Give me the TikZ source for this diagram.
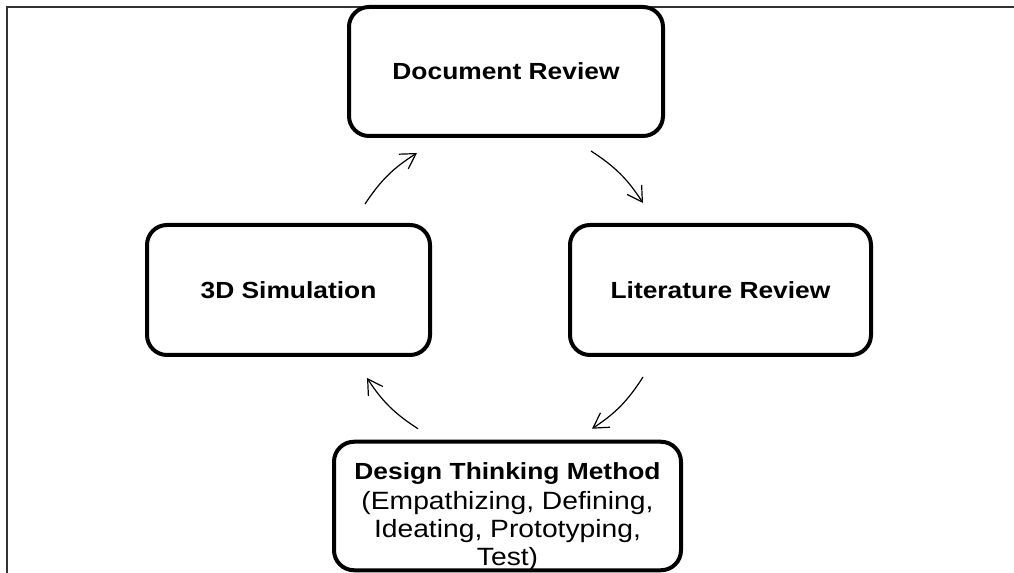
\documentclass[tikz,border=0pt]{standalone}
\usepackage{fontspec}
\setmainfont{Liberation Sans}[FakeStretch=1.13]
\usetikzlibrary{arrows.meta}

\newcommand\steptext{\mdseries\fontsize{18.75pt}{21pt}\selectfont}

\begin{document}
\begin{tikzpicture}[x=0.75pt,y=0.75pt,
    box/.style={draw,line width=3pt,rounded corners=15pt,align=center,inner sep=0pt,
      font=\bfseries\fontsize{17.5pt}{21pt}\selectfont},
    flow/.style={-{Straight Barb[length=11pt,width=13pt]},line width=0.9pt,bend left=12}]
  \useasboundingbox (0,0) rectangle (1014,-573);
  \draw[line width=0.9pt,black!80] (7,-573) -- (7,-7) -- (1014,-7);

  \node[box,minimum width=235.5pt,minimum height=96.75pt] (doc) at (506,-71.5) {Document Review};
  \node[box,minimum width=212.25pt,minimum height=97.5pt] (sim) at (288.5,-290) {3D Simulation};
  \node[box,minimum width=225.75pt,minimum height=97.5pt] (lit) at (720.5,-290) {Literature Review};
  \node[box,minimum width=260.25pt,minimum height=96pt] (dtm) at (507.5,-506)
    {\rule{0pt}{28pt}Design Thinking Method\\[1.5pt]
     \steptext (Empathizing, Defining,\\ \steptext Ideating, Prototyping,\\ \steptext Test)};

  \draw[flow] ([shift={(76.5,19)}]sim.north) to ([shift={(70,-15)}]doc.south west);
  \draw[flow] ([shift={(85,-13)}]doc.south) to ([shift={(-77.5,20)}]lit.north);
  \draw[flow] ([shift={(-77.5,-20)}]lit.south) to ([shift={(84.5,11)}]dtm.north);
  \draw[flow] ([shift={(-89.5,11)}]dtm.north) to ([shift={(78.5,-21)}]sim.south);
\end{tikzpicture}
\end{document}
